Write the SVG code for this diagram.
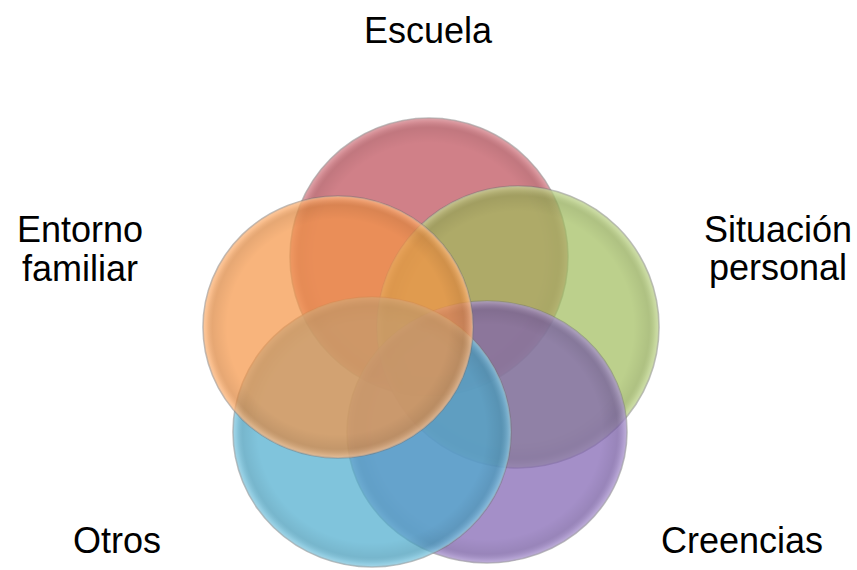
<svg xmlns="http://www.w3.org/2000/svg" width="857" height="570" viewBox="0 0 857 570">
  <style>
    .lbl { font-family: "Liberation Sans", Arial, sans-serif; font-size: 36px; fill: #000; text-anchor: middle; }
    .disc { fill-opacity: 0.7; stroke: #6f6f6f; stroke-opacity: 0.45; stroke-width: 1.6; }
    .bevel { fill: url(#bevel); stroke: none; }
  </style>
  <defs>
    <radialGradient id="bevel" cx="0.5" cy="0.5" r="0.5">
      <stop offset="0" stop-color="#000" stop-opacity="0"/>
      <stop offset="0.82" stop-color="#000" stop-opacity="0"/>
      <stop offset="0.93" stop-color="#000" stop-opacity="0.07"/>
      <stop offset="0.975" stop-color="#fff" stop-opacity="0.12"/>
      <stop offset="1" stop-color="#fff" stop-opacity="0.3"/>
    </radialGradient>
  </defs>

  <g id="node-escuela">
    <ellipse class="disc" cx="429" cy="257" rx="139" ry="139" fill="#bc4a55"/>
    <ellipse class="bevel" cx="429" cy="257" rx="139" ry="139"/>
  </g>
  <g id="node-situacion">
    <ellipse class="disc" cx="518" cy="327" rx="141" ry="141" fill="#9fbc5b"/>
    <ellipse class="bevel" cx="518" cy="327" rx="141" ry="141"/>
  </g>
  <g id="node-creencias">
    <ellipse class="disc" cx="487" cy="432" rx="140" ry="131" fill="#7d60b1"/>
    <ellipse class="bevel" cx="487" cy="432" rx="140" ry="131"/>
  </g>
  <g id="node-otros">
    <ellipse class="disc" cx="372" cy="432" rx="139" ry="135" fill="#4aabcd"/>
    <ellipse class="bevel" cx="372" cy="432" rx="139" ry="135"/>
  </g>
  <g id="node-entorno">
    <ellipse class="disc" cx="338" cy="327" rx="135" ry="131" fill="#f59444"/>
    <ellipse class="bevel" cx="338" cy="327" rx="135" ry="131"/>
  </g>

  <g id="labels">
    <text class="lbl" x="428" y="43">Escuela</text>
    <text class="lbl" x="80" y="242">Entorno</text>
    <text class="lbl" x="80" y="281">familiar</text>
    <text class="lbl" x="778" y="242">Situación</text>
    <text class="lbl" x="778" y="280">personal</text>
    <text class="lbl" x="117" y="553">Otros</text>
    <text class="lbl" x="742" y="553">Creencias</text>
  </g>
</svg>
